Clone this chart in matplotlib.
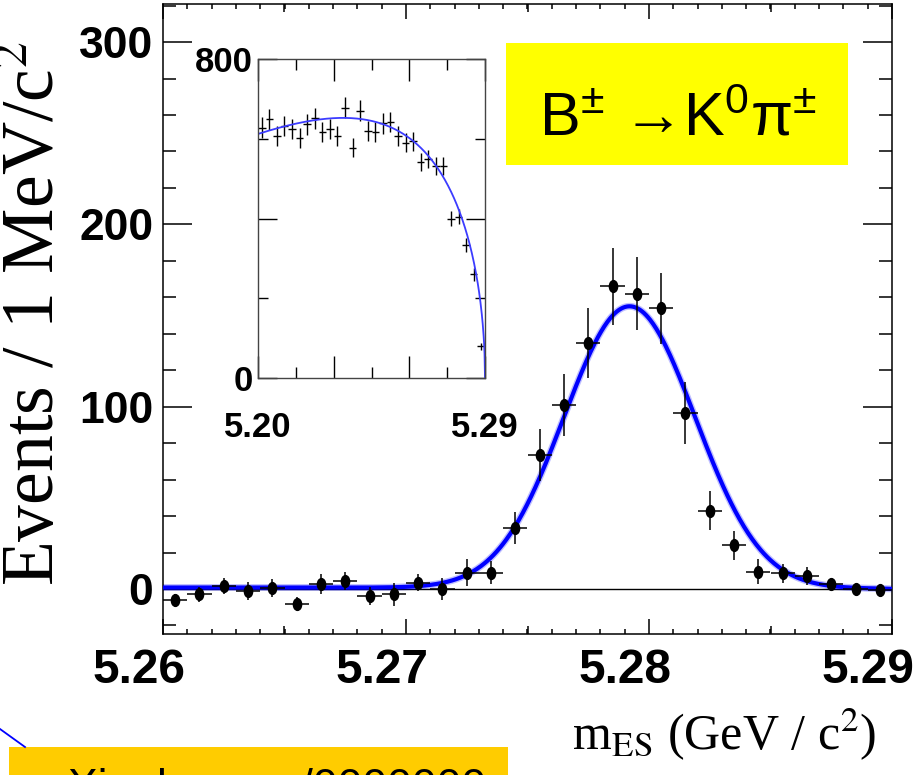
import numpy as np
import matplotlib
matplotlib.use('Agg')
import matplotlib.pyplot as plt
from matplotlib.font_manager import FontProperties
from matplotlib.lines import Line2D
from matplotlib.patches import Rectangle
from matplotlib.path import Path
from matplotlib.transforms import Affine2D, ScaledTranslation
from matplotlib.ticker import (MultipleLocator, FixedLocator, FixedFormatter,
                               NullFormatter, FuncFormatter)

W, H, DPI = 914, 775, 100

# signal window, 1 MeV bins
mes_lo, mes_hi, mes_bin = 5.26, 5.29, 0.001
events = [-6, -3, 1.5, -1, 0.5, -8, 2.5, 4.5, -4, -3,
          3.5, 0, 9, 9, 33.5, 73.5, 101, 135, 166, 162,
          154, 96.5, 43, 24, 9.5, 8.5, 7, 3, 0, -0.5]
event_errs = [3.5, 4, 4.5, 5, 5, 3.5, 5.5, 5, 5, 6.5,
              4.5, 6, 7.5, 6.5, 9, 14, 17, 19, 21, 20,
              19.5, 17, 10.5, 8, 7, 5, 5, 2, 2, 2]

# full mES range, 3 MeV bins
wide_lo, wide_hi, wide_bin = 5.20, 5.29, 0.003
wide_events = [628, 649, 607, 632, 625, 603, 636, 651, 617, 625,
               607, 678, 577, 670, 620, 618, 639, 642, 607, 590,
               594, 542, 550, 532, 532, 400, 405, 334, 260, 79]
wide_errs = [26, 26, 25, 26, 25, 25, 26, 26, 25, 25,
             25, 27, 24, 26, 25, 25, 26, 26, 25, 24,
             24, 23, 23, 23, 23, 20, 20, 18, 16, 10]

# fit results
peak_mean, peak_sigma, peak_height = 5.2792, 0.0027, 154.5
argus_end, argus_chi = 5.29, -23.1
bkg_at_lo = 0.8          # background per MeV at 5.26
wide_bkg_at_lo = 612.0   # background per 3 MeV at 5.20


def argus(m):
    u = np.clip(1.0 - (m / argus_end) ** 2, 0.0, None)
    return m * np.sqrt(u) * np.exp(argus_chi * u)


def num_font(size):
    return FontProperties(family='Liberation Sans', weight='bold', size=size)


plt.rcParams.update({
    'mathtext.fontset': 'custom',
    'mathtext.rm': 'Liberation Sans',
    'mathtext.it': 'Liberation Sans:italic',
    'mathtext.bf': 'Liberation Sans:bold',
})


def fx(px):
    return px / W


def fy(py):
    return 1 - py / H


fig = plt.figure(figsize=(W / DPI, H / DPI), dpi=DPI)

# ---- main plot ----
ax = fig.add_axes([fx(163), fy(634), 729 / W, 630 / H])
ax.set_xlim(mes_lo, mes_hi)
ax.set_ylim(-24.7, 320.9)

centers = mes_lo + mes_bin * (np.arange(len(events)) + 0.5)
ax.axhline(0, color='k', lw=1.0, zorder=1)

m = np.linspace(mes_lo, mes_hi, 700)
fit = (bkg_at_lo * argus(m) / argus(mes_lo)
       + peak_height * np.exp(-0.5 * ((m - peak_mean) / peak_sigma) ** 2))
ax.plot(m, fit, color='#0000ff', lw=5.0, alpha=0.25, zorder=2)
ax.plot(m, fit, color='#0000ff', lw=3.0, zorder=3)

dot = Path.unit_circle().transformed(Affine2D().scale(0.7, 1.0))
ax.errorbar(centers, events, yerr=event_errs, xerr=mes_bin / 2, fmt='none',
            ecolor='k', elinewidth=1.1, zorder=4)
ax.plot(centers, events, ls='none', marker=dot, ms=8.5, color='k', zorder=5)

ax.xaxis.set_major_locator(FixedLocator([5.26, 5.27, 5.28, 5.29]))
ax.xaxis.set_minor_locator(MultipleLocator(0.001))
ax.xaxis.set_major_formatter(FuncFormatter(lambda v, _: f'{v:.2f}'))
ax.yaxis.set_major_locator(MultipleLocator(100))
ax.yaxis.set_minor_locator(MultipleLocator(20))
ax.tick_params(which='both', direction='in', top=True, right=True,
               color='k', width=1.1)
ax.tick_params(axis='x', which='major', length=11, pad=10)
ax.tick_params(axis='x', which='minor', length=3.6)
ax.tick_params(axis='y', which='major', length=21, pad=7)
ax.tick_params(axis='y', which='minor', length=9.4)
for s in ax.spines.values():
    s.set_linewidth(1.1)

# half-way ticks at every 5 MeV
for side in ('bottom', 'top'):
    sec = ax.secondary_xaxis(side)
    sec.set_xticks([5.265, 5.275, 5.285])
    sec.xaxis.set_major_formatter(NullFormatter())
    sec.tick_params(direction='in', length=6, width=1.1, color='k')
    for s in sec.spines.values():
        s.set_visible(False)

shift = ScaledTranslation(-24 / DPI, 0, fig.dpi_scale_trans)
for lbl in ax.get_xticklabels():
    lbl.set_fontproperties(num_font(34.5))
    lbl.set_transform(lbl.get_transform() + shift)
for lbl in ax.get_yticklabels():
    lbl.set_fontproperties(num_font(32))

# ---- inset: full range ----
ins = fig.add_axes([fx(258), fy(378), 227 / W, 319 / H])
ins.set_xlim(wide_lo, wide_hi)
ins.set_ylim(0, 800)
wide_centers = wide_lo + wide_bin * (np.arange(len(wide_events)) + 0.5)
ins.errorbar(wide_centers, wide_events, yerr=wide_errs, xerr=wide_bin / 2,
             fmt='none', ecolor='k', elinewidth=1.0)
mw = np.linspace(wide_lo, wide_hi, 500)
ins.plot(mw, wide_bkg_at_lo * argus(mw) / argus(wide_lo),
         color='#3c3cff', lw=1.3)

ins.xaxis.set_major_locator(FixedLocator([5.20, 5.23, 5.26, 5.29]))
ins.xaxis.set_minor_locator(FixedLocator([5.215, 5.245, 5.275]))
ins.xaxis.set_major_formatter(FixedFormatter(['5.20', '', '', '5.29']))
ins.yaxis.set_major_locator(FixedLocator([0, 400, 800]))
ins.yaxis.set_minor_locator(FixedLocator([200, 600]))
ins.yaxis.set_major_formatter(FixedFormatter(['0', '', '800']))
ins.tick_params(which='both', direction='in', top=True, right=True,
                color='k', width=1.0)
ins.tick_params(axis='x', which='major', length=16, pad=24)
ins.tick_params(axis='x', which='minor', length=8)
ins.tick_params(axis='y', which='major', length=14, pad=4)
ins.tick_params(axis='y', which='minor', length=7)
for s in ins.spines.values():
    s.set_linewidth(1.0)
    s.set_color('#444444')
for lbl in ins.get_xticklabels() + ins.get_yticklabels():
    lbl.set_fontproperties(num_font(25))

# ---- axis titles ----
fig.text(fx(37), fy(314), r'Events / 1 MeV/c$^2$', rotation=90,
         ha='center', va='center', fontsize=53, family='Liberation Serif',
         math_fontfamily='stix')
fig.text(fx(572), fy(750), r'm$_{\mathrm{ES}}$ (GeV / c$^{2}$)',
         ha='left', va='baseline', fontsize=36, family='Liberation Serif',
         math_fontfamily='stix')

# ---- decay label ----
fig.add_artist(Rectangle((fx(506), fy(165)), 342 / W, 122 / H,
                         transform=fig.transFigure, facecolor='#ffff00',
                         edgecolor='none', zorder=5))
fig.text(fx(678), fy(136), 'B$^{\\pm}$ \u2192K$^{0}$\u03c0$^{\\pm}$',
         ha='center', va='baseline', fontsize=44, family='Liberation Sans',
         zorder=6)

# ---- reference box at the bottom ----
fig.add_artist(Rectangle((fx(9), 0), 499 / W, (H - 747) / H,
                         transform=fig.transFigure, facecolor='#ffcc00',
                         edgecolor='none'))
fig.text(fx(68), fy(800), 'Xiaolong ex/0000000', ha='left', va='baseline',
         fontsize=32, family='Liberation Sans')
fig.add_artist(Line2D([0, fx(25)], [fy(729), fy(747)], color='#0000ff', lw=1.3))

fig.savefig('out.png', dpi=DPI)
